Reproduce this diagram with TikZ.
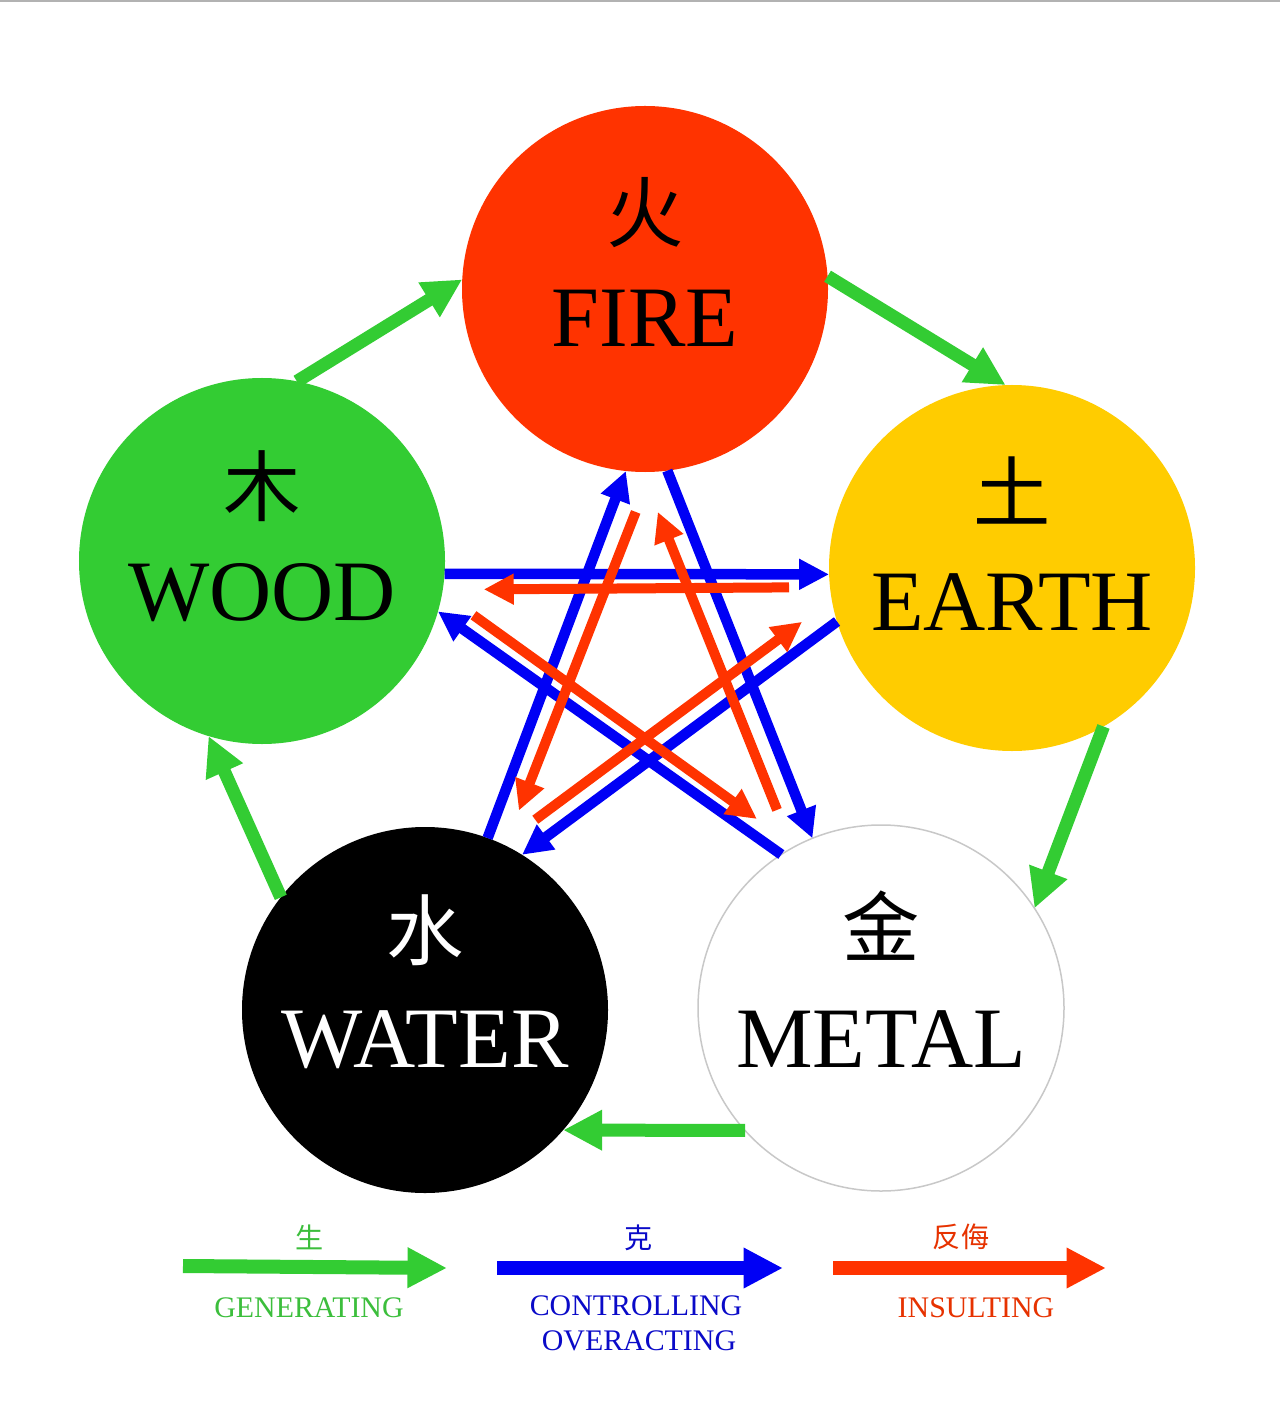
\documentclass[tikz,border=0pt]{standalone}
\usepackage{fontspec}
\setmainfont{Liberation Serif}
\newfontfamily\cjk{Noto Sans CJK SC}
\usetikzlibrary{arrows.meta, calc}

\definecolor{fire_c}{RGB}{255,51,0}
\definecolor{wood_c}{RGB}{51,204,51}
\definecolor{earth_c}{RGB}{255,204,0}
\definecolor{metal_edge}{RGB}{200,200,200}
\definecolor{ctrl_c}{RGB}{0,0,245}
\definecolor{gen_txt}{RGB}{60,190,60}
\definecolor{ctrl_txt}{RGB}{10,10,200}
\definecolor{insult_txt}{RGB}{230,50,0}

\begin{document}
\begin{tikzpicture}[
    x=0.2mm, y=-0.2mm,
    element/.style ={circle, minimum size=73.2mm, inner sep=0pt, outer sep=0pt},
    hanzi/.style   ={font=\cjk\fontsize{44}{44}\selectfont},
    ename/.style   ={font=\fontsize{49}{49}\selectfont, anchor=base},
    gen/.style     ={-{Triangle[length=7.8mm, width=7.6mm]}, line width=2.6mm, wood_c},
    ctrl/.style    ={-{Triangle[length=6mm, width=5.8mm]}, line width=2.1mm, ctrl_c},
    insult/.style  ={-{Triangle[length=6mm, width=5.8mm]}, line width=2mm, fire_c, shorten <=8.2mm, shorten >=8.2mm},
    keyarrow/.style={-{Triangle[length=7.9mm, width=7.6mm]}, line width=2.8mm},
    keytxt/.style  ={font=\fontsize{17}{17}\selectfont, anchor=base},
    keyzh/.style   ={font=\cjk\fontsize{16}{16}\selectfont},
    ]
    \useasboundingbox (0,0) rectangle (1280,1414);
    \draw[line width=0.5mm, black!30] (0,1) -- (1280,1);

    % --- Elements ---
    \node[element, fill=fire_c] (fire) at (645,289) {};
    \node[element, fill=wood_c] (wood) at (262,561) {};
    \node[element, fill=earth_c] (earth) at (1012,568) {};
    \node[element, fill=black] (water) at (425,1010) {};
    \node[element, fill=white, draw=metal_edge, line width=0.3mm] (metal) at (881,1008) {};

    \node[hanzi] (fire_zh) at ($(fire)+(0,-76)$) {火};
    \node[ename] (fire_en) at ($(fire)+(0,58)$) {FIRE};
    \node[hanzi] (wood_zh) at ($(wood)+(0,-75)$) {木};
    \node[ename] (wood_en) at ($(wood)+(0,59)$) {WOOD};
    \node[hanzi] (earth_zh) at ($(earth)+(0,-78)$) {土};
    \node[ename] (earth_en) at ($(earth)+(0,62)$) {EARTH};
    \node[hanzi, white] (water_zh) at ($(water)+(0,-80)$) {水};
    \node[ename, white] (water_en) at ($(water)+(0,57)$) {WATER};
    \node[hanzi] (metal_zh) at ($(metal)+(0,-82)$) {金};
    \node[ename] (metal_en) at ($(metal)+(0,59)$) {METAL};

    % --- Generating cycle ---
    \draw[gen] (wood.79.8) -- (fire.177.2);
    \draw[gen] (fire.4.3) -- (earth.92.8);
    \draw[gen] (earth.-60.2) -- (metal.33.8);
    \draw[gen] (metal.222.4) -- (water.-41.9);
    \draw[gen] (water.142.6) -- (wood.253);

    % --- Controlling star ---
    \draw[ctrl] (wood.-4.3) -- (earth.182.1);
    \draw[ctrl] (earth.197.1) -- (water.58.3);
    \draw[ctrl] (water.70) -- (fire.264.8);
    \draw[ctrl] (fire.-83.2) -- (metal.112.9);
    \draw[ctrl] (metal.123.9) -- (wood.-16.6);

    % --- Insulting star (reverse) ---
    \draw[insult] (earth.186.9) -- (wood.-9.1);
    \draw[insult, shorten >=7.4mm] (water.65) -- (earth.190);
    \draw[insult, shorten <=8.6mm, shorten >=7.5mm] (fire.-88.2) -- (water.64.3);
    \draw[insult, shorten >=8.6mm] (metal.119.1) -- (fire.269.8);
    \draw[insult, shorten <=7.7mm, shorten >=9.4mm] (wood.-10.9) -- (metal.118.6);

    % --- Legend ---
    \coordinate (gen_tail) at (183,1266);
    \coordinate (gen_tip) at (447,1268);
    \coordinate (ctrl_tail) at (497,1268);
    \coordinate (ctrl_tip) at (783,1268);
    \coordinate (insult_tail) at (833,1268);
    \coordinate (insult_tip) at (1106,1268);

    \draw[keyarrow, wood_c] (gen_tail) -- (gen_tip);
    \draw[keyarrow, ctrl_c] (ctrl_tail) -- (ctrl_tip);
    \draw[keyarrow, fire_c] (insult_tail) -- (insult_tip);

    \node[keyzh, gen_txt] (gen_zh) at (310,1237) {生};
    \node[keytxt, gen_txt] (gen_en) at (309,1317) {GENERATING};
    \node[keyzh, ctrl_txt] (ctrl_zh) at (639,1238) {克};
    \node[keytxt, ctrl_txt] (ctrl_en) at (636,1315) {CONTROLLING};
    \node[keytxt, ctrl_txt] (over_en) at (639,1350) {OVERACTING};
    \node[keyzh, insult_txt] (insult_zh) at (961,1237) {反侮};
    \node[keytxt, insult_txt] (insult_en) at (976,1317) {INSULTING};

\end{tikzpicture}
\end{document}
